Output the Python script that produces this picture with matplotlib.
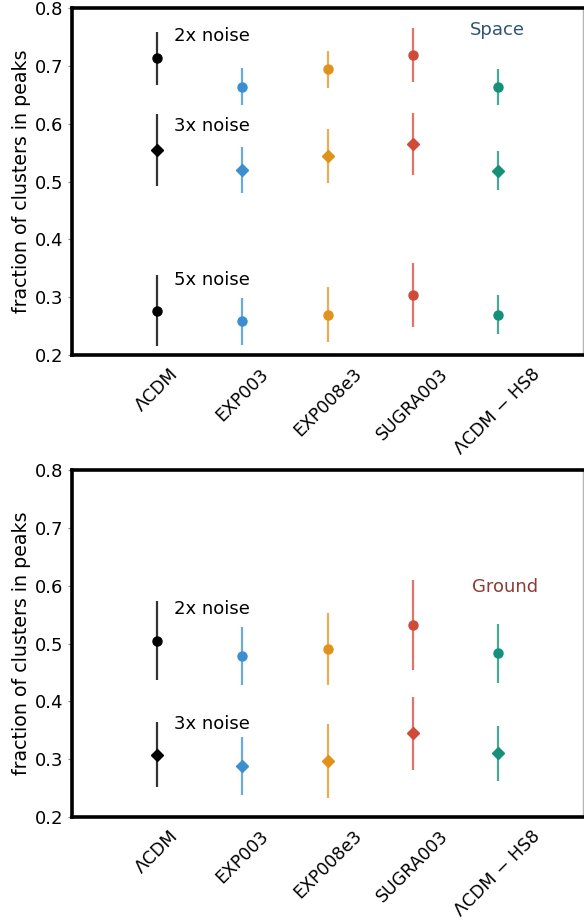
import numpy as np
import matplotlib
matplotlib.use("Agg")
import matplotlib.pyplot as plt

# models along the x axis
models = ["ΛCDM", "EXP003", "EXP008e3", "SUGRA003", "ΛCDM − HS8"]
colors = ["#000000", "#3b8fd0", "#e0921b", "#d04a3a", "#17907a"]
ecolors = ["#333333", "#6aaadf", "#e9ad56", "#dd766a", "#4aa894"]

# Space: fraction of clusters in peaks and errors
space_2x = [0.713, 0.664, 0.694, 0.719, 0.663]
space_2x_err = [0.046, 0.032, 0.032, 0.047, 0.031]
space_3x = [0.555, 0.520, 0.544, 0.565, 0.519]
space_3x_err = [0.062, 0.040, 0.047, 0.054, 0.034]
space_5x = [0.277, 0.258, 0.270, 0.304, 0.270]
space_5x_err = [0.062, 0.040, 0.048, 0.055, 0.034]

# Ground
ground_2x = [0.505, 0.479, 0.490, 0.532, 0.483]
ground_2x_err = [0.068, 0.050, 0.062, 0.077, 0.051]
ground_3x = [0.308, 0.288, 0.297, 0.345, 0.310]
ground_3x_err = [0.056, 0.050, 0.064, 0.063, 0.048]


def draw_set(ax, vals, errs, marker, ms):
    for i in range(len(models)):
        ax.errorbar(i, vals[i], yerr=errs[i], fmt=marker, color=colors[i],
                    ecolor=ecolors[i], elinewidth=1.6, ms=ms, capsize=0, zorder=3)


def style_axes(ax):
    ax.set_xlim(-1, 5)
    ax.set_ylim(0.2, 0.8)
    ax.set_xticks(range(len(models)))
    ax.set_xticklabels(models, rotation=45, ha="center", fontsize=12.5)
    ax.set_yticks([0.2, 0.3, 0.4, 0.5, 0.6, 0.7, 0.8])
    ax.set_yticklabels(["0.2", "0.3", "0.4", "0.5", "0.6", "0.7", "0.8"])
    ax.tick_params(axis="y", labelsize=13, length=3, width=0.8, color="#888888", pad=3)
    ax.tick_params(axis="x", length=0, pad=7)
    ax.set_ylabel("fraction of clusters in peaks", fontsize=13.7, labelpad=3)
    for s in ["left", "bottom", "top"]:
        ax.spines[s].set_linewidth(2.6)
        ax.spines[s].set_color("black")
    ax.spines["right"].set_linewidth(1.0)
    ax.spines["right"].set_color("#b5b5b5")


fig = plt.figure(figsize=(5.84, 9.21), dpi=100)
ax1 = fig.add_axes([0.1233, 0.6145, 0.875, 0.3768])
ax2 = fig.add_axes([0.1233, 0.1129, 0.875, 0.3768])

draw_set(ax1, space_2x, space_2x_err, "o", 6.5)
draw_set(ax1, space_3x, space_3x_err, "D", 6)
draw_set(ax1, space_5x, space_5x_err, "o", 6.5)
ax1.text(0.2, 0.752, "2x noise", fontsize=13, va="center")
ax1.text(0.2, 0.596, "3x noise", fontsize=13, va="center")
ax1.text(0.2, 0.330, "5x noise", fontsize=13, va="center")
ax1.text(4.0, 0.762, "Space", fontsize=13, color="#2f5576", ha="center", va="center")
style_axes(ax1)

draw_set(ax2, ground_2x, ground_2x_err, "o", 6.5)
draw_set(ax2, ground_3x, ground_3x_err, "D", 6)
ax2.text(0.2, 0.560, "2x noise", fontsize=13, va="center")
ax2.text(0.2, 0.361, "3x noise", fontsize=13, va="center")
ax2.text(4.08, 0.598, "Ground", fontsize=13, color="#8e3b36", ha="center", va="center")
style_axes(ax2)

fig.savefig("out.png", dpi=100)
